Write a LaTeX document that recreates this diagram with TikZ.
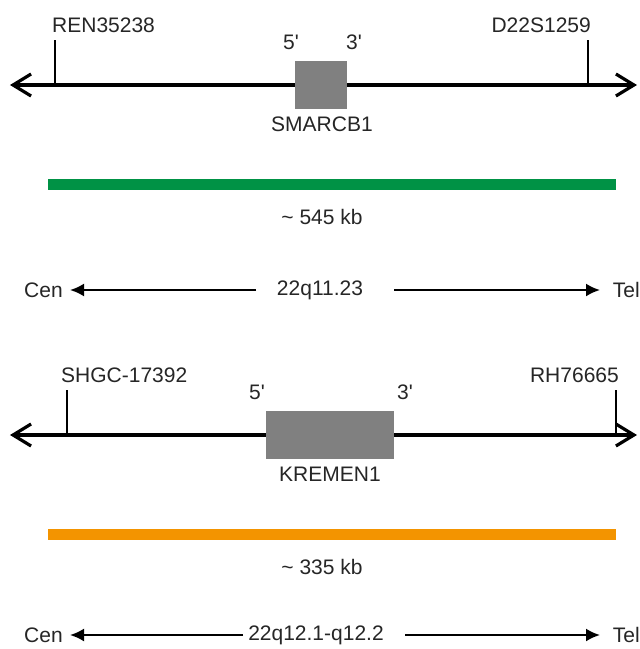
\documentclass[tikz,border=0pt]{standalone}
\usepackage{fontspec}
\setmainfont{Liberation Sans}
\usetikzlibrary{arrows.meta}
\definecolor{geneGray}{RGB}{128,128,128}
\definecolor{barGreen}{RGB}{0,146,69}
\definecolor{barOrange}{RGB}{243,148,0}
\tikzset{
  lbl/.style={inner sep=0pt, font=\fontsize{21}{25}\selectfont, text=black!85},
  chrline/.style={line width=3.2pt, {Straight Barb[length=18pt,width=22pt]}-{Straight Barb[length=18pt,width=22pt]}},
  tick/.style={line width=1.8pt},
  genebox/.style={fill=geneGray, draw=none, inner sep=0pt},
  sizebar/.style={draw=none, inner sep=0pt},
  dirarrow/.style={line width=2.2pt, -{Latex[length=14pt,width=13pt]}},
}
\begin{document}
\begin{tikzpicture}[x=1pt,y=-1pt]
\useasboundingbox (0,0) rectangle (640,649);
\fill[white] (0,0) rectangle (640,649);

% ---------- SMARCB1 section ----------
\coordinate (l1) at (10,85);
\coordinate (r1) at (637,85);
\draw[chrline] (l1) -- (r1);
\node[lbl, anchor=west] (ren) at (52,25) {REN35238};
\node[lbl, anchor=east] (d22) at (591,25) {D22S1259};
\coordinate (t1a) at (55,40); \coordinate (t1b) at (55,85);
\coordinate (t2a) at (588,40); \coordinate (t2b) at (588,85);
\draw[tick] (t1a) -- (t1b);
\draw[tick] (t2a) -- (t2b);
\node[genebox, minimum width=52pt, minimum height=48pt] (smb) at (321,85) {};
\node[lbl] (s5) at (291,42) {5\textquotesingle};
\node[lbl] (s3) at (354,42) {3\textquotesingle};
\node[lbl] (smname) at (322,124) {SMARCB1};
\node[sizebar, fill=barGreen, minimum width=568pt, minimum height=11pt] (gbar) at (332,184.5) {};
\node[lbl] (g545) at (322,217) {\textasciitilde\ 545 kb};
\node[lbl, anchor=west] (cen1) at (24,290) {Cen};
\node[lbl] (loc1) at (320,290) {22q11.23};
\node[lbl, anchor=east] (tel1) at (640,290) {Tel};
\coordinate (a1s) at (256,290); \coordinate (a1e) at (70,290);
\coordinate (b1s) at (394,290); \coordinate (b1e) at (600,290);
\draw[dirarrow] (a1s) -- (a1e);
\draw[dirarrow] (b1s) -- (b1e);

% ---------- KREMEN1 section ----------
\coordinate (l2) at (10,435);
\coordinate (r2) at (637,435);
\draw[chrline] (l2) -- (r2);
\node[lbl, anchor=west] (shgc) at (61,375) {SHGC-17392};
\node[lbl, anchor=east] (rh) at (619,375) {RH76665};
\coordinate (t3a) at (67,390); \coordinate (t3b) at (67,435);
\coordinate (t4a) at (616,390); \coordinate (t4b) at (616,435);
\draw[tick] (t3a) -- (t3b);
\draw[tick] (t4a) -- (t4b);
\node[genebox, minimum width=128pt, minimum height=48pt] (kbox) at (330,435) {};
\node[lbl] (k5) at (257,392) {5\textquotesingle};
\node[lbl] (k3) at (405,392) {3\textquotesingle};
\node[lbl] (kname) at (330,474) {KREMEN1};
\node[sizebar, fill=barOrange, minimum width=568pt, minimum height=11pt] (obar) at (332,534.5) {};
\node[lbl] (o335) at (322,567) {\textasciitilde\ 335 kb};
\node[lbl, anchor=west] (cen2) at (24,635) {Cen};
\node[lbl] (loc2) at (316,635) {22q12.1-q12.2};
\node[lbl, anchor=east] (tel2) at (640,635) {Tel};
\coordinate (a2s) at (243,635); \coordinate (a2e) at (70,635);
\coordinate (b2s) at (405,635); \coordinate (b2e) at (600,635);
\draw[dirarrow] (a2s) -- (a2e);
\draw[dirarrow] (b2s) -- (b2e);
\end{tikzpicture}
\end{document}
